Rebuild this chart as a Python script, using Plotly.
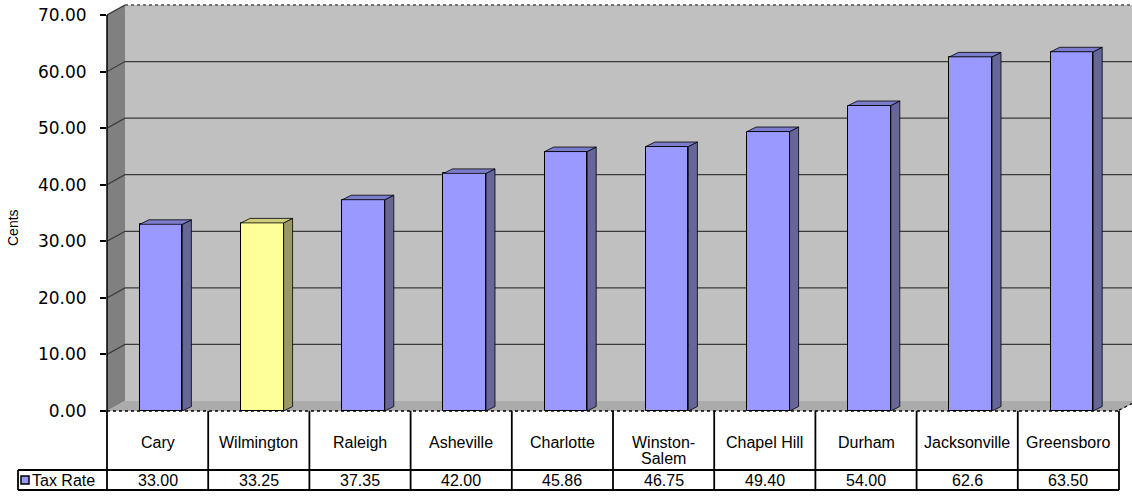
import plotly.graph_objects as go

# ---------------- data ----------------
categories = ["Cary", "Wilmington", "Raleigh", "Asheville", "Charlotte",
              "Winston-Salem", "Chapel Hill", "Durham", "Jacksonville", "Greensboro"]
category_labels = ["Cary", "Wilmington", "Raleigh", "Asheville", "Charlotte",
                   "Winston-<br>Salem", "Chapel Hill", "Durham", "Jacksonville", "Greensboro"]
tax_rate = [33.00, 33.25, 37.35, 42.00, 45.86, 46.75, 49.40, 54.00, 62.6, 63.50]
tax_rate_labels = ["33.00", "33.25", "37.35", "42.00", "45.86", "46.75",
                   "49.40", "54.00", "62.6", "63.50"]
highlight = "Wilmington"
series_name = "Tax Rate"
axis_title = "Cents"
y_ticks = [0, 10, 20, 30, 40, 50, 60, 70]
y_tick_labels = ["0.00", "10.00", "20.00", "30.00", "40.00", "50.00", "60.00", "70.00"]

# ---------------- layout geometry ----------------
W, H = 1132, 498
L, R, T, B = 107, 0, 3, 87
CAT_PX = 101.2
PLOT_W = W - L - R
PLOT_H = H - T - B
UNIT_PX = 396 / 70.0
X0 = -0.5
X1 = X0 + PLOT_W / CAT_PX
Y1 = PLOT_H / UNIT_PX
N = len(categories)


def dxp(px):
    return px / CAT_PX


def dyp(px):
    return px / UNIT_PX


def paper_x(px):
    return (px - L) / PLOT_W


def paper_y(py):
    return (H - B - py) / PLOT_H


WX, WY = dxp(18), dyp(10)          # wall depth
SX, SY = dxp(9), dyp(4.5)          # bar depth
BAR_W = 0.42
SHIFT = 0.035

FRONT_BLUE, SIDE_BLUE, TOP_BLUE = "#9999FF", "#666699", "#7C7CCC"
FRONT_YEL, SIDE_YEL, TOP_YEL = "#FFFF99", "#999966", "#CCCC7A"

is_hi = [c == highlight for c in categories]
front_colors = [FRONT_YEL if h else FRONT_BLUE for h in is_hi]

fig = go.Figure()

# front faces
fig.add_trace(go.Bar(
    x=[i + SHIFT for i in range(N)], y=tax_rate, width=BAR_W,
    marker=dict(color=front_colors, line=dict(color="black", width=1)),
    hoverinfo="skip", showlegend=False, name=series_name))


def faces(highlighted):
    sx, sy, tx, ty = [], [], [], []
    for i, v in enumerate(tax_rate):
        if is_hi[i] != highlighted:
            continue
        xl = i + SHIFT - BAR_W / 2
        xr = i + SHIFT + BAR_W / 2
        sx += [xr, xr + SX, xr + SX, xr, xr, None]
        sy += [0, SY, v + SY, v, 0, None]
        tx += [xl, xr, xr + SX, xl + SX, xl, None]
        ty += [v, v, v + SY, v + SY, v, None]
    return sx, sy, tx, ty


for hi, side_c, top_c in [(False, SIDE_BLUE, TOP_BLUE), (True, SIDE_YEL, TOP_YEL)]:
    sx, sy, tx, ty = faces(hi)
    fig.add_trace(go.Scatter(x=sx, y=sy, mode="lines", fill="toself", fillcolor=side_c,
                             line=dict(color="black", width=0.8), hoverinfo="skip",
                             showlegend=False))
    fig.add_trace(go.Scatter(x=tx, y=ty, mode="lines", fill="toself", fillcolor=top_c,
                             line=dict(color="black", width=0.8), hoverinfo="skip",
                             showlegend=False))

shapes = []
# back wall
shapes.append(dict(type="rect", xref="x", yref="y", x0=X0 + WX, x1=X1 + 1, y0=WY, y1=70 + WY,
                   fillcolor="#C0C0C0", line=dict(width=0), layer="below"))
# left wall
shapes.append(dict(type="path", xref="x", yref="y",
                   path=f"M {X0},0 L {X0 + WX},{WY} L {X0 + WX},{70 + WY} L {X0},70 Z",
                   fillcolor="#808080", line=dict(width=0), layer="below"))
# floor
shapes.append(dict(type="path", xref="x", yref="y",
                   path=f"M {X0},0 L {N - 0.5},0 L {N - 0.5 + WX},{WY} L {X0 + WX},{WY} Z",
                   fillcolor="#ABABAB", line=dict(width=0), layer="below"))
# gridlines
for v in y_ticks[1:-1]:
    shapes.append(dict(type="path", xref="x", yref="y",
                       path=f"M {X0},{v} L {X0 + WX},{v + WY} L {X1 + 1},{v + WY}",
                       line=dict(color="#3A3A3A", width=1.2), layer="below"))
# top edges of walls
shapes.append(dict(type="path", xref="x", yref="y",
                   path=f"M {X0},70 L {X0 + WX},{70 + WY}",
                   line=dict(color="#303030", width=1.2), layer="below"))
shapes.append(dict(type="line", xref="x", yref="y", x0=X0 + WX, x1=X1 + 1, y0=70 + WY, y1=70 + WY,
                   line=dict(color="#505050", width=1.5, dash="dot"), layer="below"))
# y axis line
shapes.append(dict(type="line", xref="paper", yref="y", x0=0, x1=0, y0=0, y1=70,
                   line=dict(color="black", width=1.5)))
# front floor edge (dotted)
shapes.append(dict(type="line", xref="paper", yref="paper",
                   x0=paper_x(L), x1=paper_x(L + N * CAT_PX), y0=0, y1=0,
                   line=dict(color="black", width=1.5, dash="dot")))
shapes.append(dict(type="line", xref="x", yref="y",
                   x0=N - 0.5, x1=N - 0.5 + WX, y0=0.15, y1=WY,
                   line=dict(color="black", width=1.2, dash="dot")))

# data table grid
TBL_TOP, ROW_SPLIT, TBL_BOT, LEG_LEFT = 411, 470, 490, 18
LINE = dict(color="black", width=1.8)
for k in range(N + 1):
    xp = paper_x(L + k * CAT_PX)
    shapes.append(dict(type="line", xref="paper", yref="paper", x0=xp, x1=xp,
                       y0=paper_y(TBL_TOP), y1=paper_y(TBL_BOT), line=LINE))
for py in (ROW_SPLIT, TBL_BOT):
    shapes.append(dict(type="line", xref="paper", yref="paper",
                       x0=paper_x(LEG_LEFT), x1=paper_x(L + N * CAT_PX),
                       y0=paper_y(py), y1=paper_y(py), line=LINE))
shapes.append(dict(type="line", xref="paper", yref="paper", x0=paper_x(LEG_LEFT), x1=paper_x(LEG_LEFT),
                   y0=paper_y(ROW_SPLIT), y1=paper_y(TBL_BOT), line=LINE))
# legend key
shapes.append(dict(type="rect", xref="paper", yref="paper",
                   x0=paper_x(21), x1=paper_x(29), y0=paper_y(484), y1=paper_y(476),
                   fillcolor=FRONT_BLUE, line=dict(color="black", width=1.5)))

TFONT = dict(family="Liberation Sans, Arial, sans-serif", size=16, color="black")
annotations = []
CAT_MID, LINE_STEP = 442.5, 15.5
for i, lab in enumerate(category_labels):
    for j, part in enumerate(lab.split("<br>")):
        annotations.append(dict(x=i, y=paper_y(CAT_MID + j * LINE_STEP), xref="x", yref="paper",
                                text=part, showarrow=False, xanchor="center", yanchor="middle",
                                font=TFONT))
for i, lab in enumerate(tax_rate_labels):
    annotations.append(dict(x=i, y=paper_y(480.5), xref="x", yref="paper", text=lab,
                            showarrow=False, xanchor="center", yanchor="middle", font=TFONT))
annotations.append(dict(x=paper_x(30), y=paper_y(480.5), xref="paper", yref="paper", text=series_name,
                        showarrow=False, xanchor="left", yanchor="middle", font=TFONT))
annotations.append(dict(x=paper_x(13), y=paper_y(228), xref="paper", yref="paper", text=axis_title,
                        showarrow=False, textangle=-90, xanchor="center", yanchor="middle",
                        font=dict(family="Liberation Sans, Arial, sans-serif", size=14, color="black")))

fig.update_layout(
    width=W, height=H,
    margin=dict(l=L, r=R, t=T, b=B, pad=0),
    paper_bgcolor="white", plot_bgcolor="white",
    showlegend=False,
    shapes=shapes, annotations=annotations,
    bargap=0,
    xaxis=dict(range=[X0, X1], showticklabels=False, showgrid=False, zeroline=False,
               showline=False, ticks="", fixedrange=True),
    yaxis=dict(range=[0, Y1], tickvals=y_ticks, ticktext=y_tick_labels, ticks="outside",
               ticklen=6, tickwidth=1.5, tickcolor="black", showgrid=False, zeroline=False,
               showline=False, ticklabelstandoff=10, fixedrange=True,
               tickfont=dict(family="DejaVu Sans, sans-serif", size=17, color="black")),
)

fig.write_html("out.html")
